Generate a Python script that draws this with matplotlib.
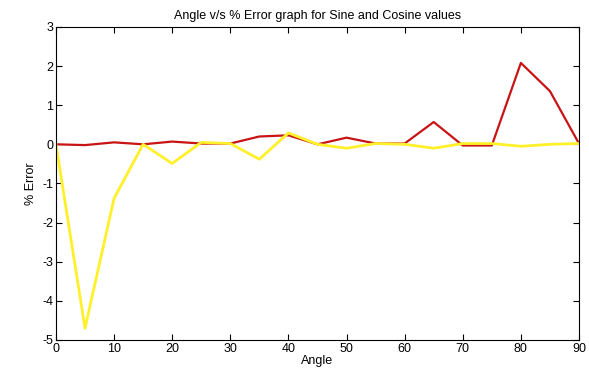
import numpy as np
import matplotlib
matplotlib.use('Agg')
import matplotlib.pyplot as plt

plt.rcParams['font.family'] = ['Liberation Sans', 'DejaVu Sans']
plt.rcParams['axes.unicode_minus'] = False

angles = [0, 5, 10, 15, 20, 25, 30, 35, 40, 45, 50, 55, 60, 65, 70, 75, 80, 85, 90]
sine_err = [0, -0.02, 0.05, 0, 0.07, 0.02, 0.02, 0.2, 0.23, 0, 0.17, 0.02, 0.02,
            0.57, -0.03, -0.03, 2.08, 1.36, 0.02]
cosine_err = [0, -4.7, -1.38, 0, -0.49, 0.05, 0.02, -0.38, 0.29, 0, -0.1, 0.02, 0.0,
              -0.1, 0.02, 0.02, -0.05, 0.0, 0.02]

fig = plt.figure(figsize=(5.89, 3.74), dpi=100)
ax = fig.add_axes([0.095, 0.091, 0.888, 0.837])

ax.plot(angles, sine_err, color='#c81414', linewidth=1.6)
ax.plot(angles, cosine_err, color='#fff02a', linewidth=2.0)

ax.set_xlim(0, 90)
ax.set_ylim(-5, 3)
ax.set_xticks(np.arange(0, 91, 10))
ax.set_yticks(np.arange(-5, 4, 1))
ax.tick_params(direction='in', top=True, right=True, labelsize=9, length=4, pad=2)

ax.set_xlabel('Angle', fontsize=9, labelpad=0)
ax.set_ylabel('% Error', fontsize=9, labelpad=4)
ax.set_title('Angle v/s % Error graph for Sine and Cosine values', fontsize=9, pad=6)

fig.savefig('out.png', dpi=100)
